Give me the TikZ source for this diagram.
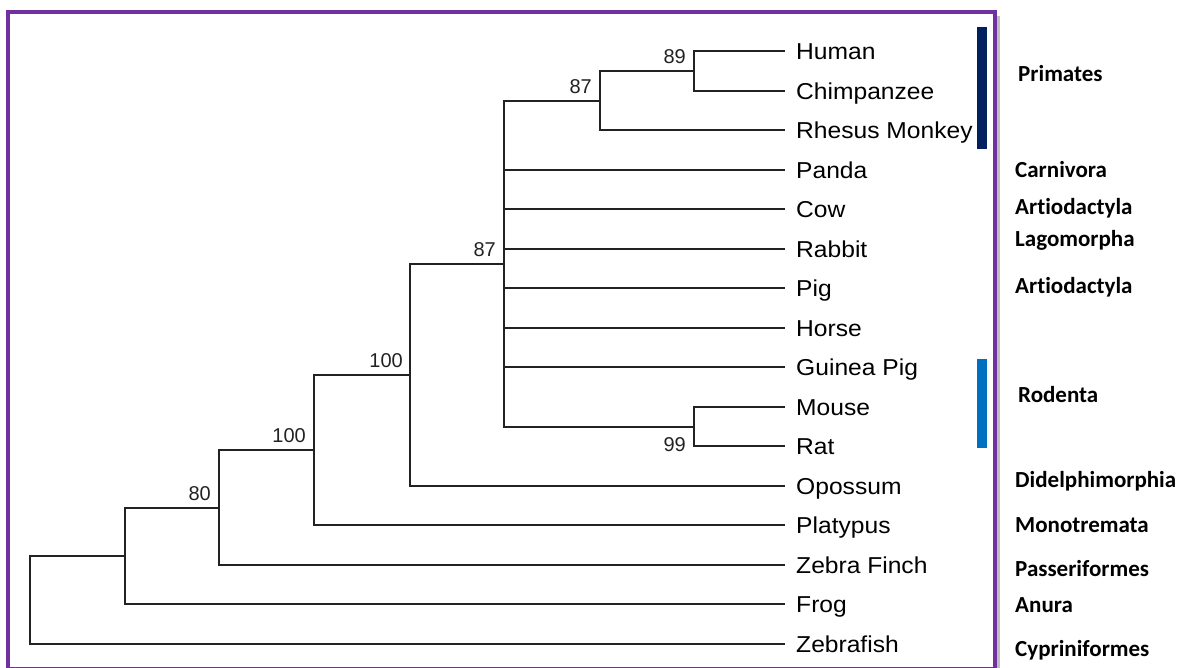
\documentclass[tikz,border=0pt]{standalone}
\usepackage{fontspec}
\setmainfont{Liberation Sans}
\newfontfamily\leaffont{Liberation Sans}[FakeStretch=1.07]
\newfontfamily\orderfont{Carlito}[Ligatures=NoCommon]
\usetikzlibrary{positioning}

\definecolor{framepurple}{RGB}{112,48,160}
\definecolor{primblue}{RGB}{0,32,96}
\definecolor{rodblue}{RGB}{0,112,192}
\definecolor{branchgray}{RGB}{34,34,34}

\begin{document}
\begin{tikzpicture}[
        x=1pt, y=-1pt,
        branch/.style={draw=branchgray, line width=1.8pt},
        leaf/.style={inner sep=0pt, anchor=west, text height=16.5pt, text depth=0pt, font=\leaffont\fontsize{23}{23}\selectfont},
        boot/.style={inner sep=0pt, text=branchgray, font=\fontsize{20}{20}\selectfont},
        order/.style={inner sep=0pt, anchor=base west, font=\orderfont\bfseries\fontsize{23}{23}\selectfont}
      ]
      \useasboundingbox (0,0) rectangle (1182,668);
      \clip (0,0) rectangle (1182,668);

      % frame
      \draw[black!25, line width=3pt] (998.5,16) -- (998.5,668);
      \draw[framepurple, line width=4pt] (8,12.5) rectangle (994.5,669);

      % taxa
      \foreach \name/\txt [count=\i from 0] in {human/Human, chimp/Chimpanzee, rhesus/Rhesus Monkey,
          panda/Panda, cow/Cow, rabbit/Rabbit, pig/Pig, horse/Horse, guinea/Guinea Pig, mouse/Mouse,
          rat/Rat, opossum/Opossum, platypus/Platypus, finch/Zebra Finch, frog/Frog, zfish/Zebrafish} {
        \coordinate (t-\name) at (785, {int(51.5+39.5*\i)});
        \node[leaf, right=11pt of t-\name] (\name) {\txt};
      }

      % internal nodes
      \coordinate (hc)    at (694,71);
      \coordinate (prim)  at (600,101);
      \coordinate (mr)    at (694,427);
      \coordinate (euth)  at (504,264);
      \coordinate (ther)  at (410,375);
      \coordinate (mamm)  at (314,450);
      \coordinate (amn)   at (219,508);
      \coordinate (tetra) at (125,556);
      \coordinate (root)  at (30,600);

      \draw[branch] (hc) |- (t-human) (hc) |- (t-chimp);
      \draw[branch] (prim) |- (hc) (prim) |- (t-rhesus);
      \draw[branch] (mr) |- (t-mouse) (mr) |- (t-rat);
      \foreach \c in {prim, t-panda, t-cow, t-rabbit, t-pig, t-horse, t-guinea, mr}
        \draw[branch] (euth) |- (\c);
      \draw[branch] (ther) |- (euth) (ther) |- (t-opossum);
      \draw[branch] (mamm) |- (ther) (mamm) |- (t-platypus);
      \draw[branch] (amn) |- (mamm) (amn) |- (t-finch);
      \draw[branch] (tetra) |- (amn) (tetra) |- (t-frog);
      \draw[branch] (root) |- (tetra) (root) |- (t-zfish);

      % bootstrap values
      \node[boot, above left=7pt and 8pt of hc]   (b-hc)   {89};
      \node[boot, above left=7pt and 8pt of prim] (b-prim) {87};
      \node[boot, above left=7pt and 8pt of euth] (b-euth) {87};
      \node[boot, above left=7pt and 7pt of ther] (b-ther) {100};
      \node[boot, above left=7pt and 8pt of mamm] (b-mamm) {100};
      \node[boot, above left=7pt and 8pt of amn]  (b-amn)  {80};
      \node[boot, below left=10pt and 8pt of mr]  (b-mr)   {99};

      % orders
      \fill[primblue] (977,27) rectangle (987,149);
      \fill[rodblue] (977,359) rectangle (987,448);
      \node[order] (o-prim)  at (1018,82)  {Primates};
      \node[order] (o-carn)  at (1015,178) {Carnivora};
      \node[order] (o-art1)  at (1015,215) {Art\kern0pt iodactyla};
      \node[order] (o-lago)  at (1015,247) {Lagomorpha};
      \node[order] (o-art2)  at (1015,293) {Art\kern0pt iodactyla};
      \node[order] (o-rod)   at (1018,402) {Rodenta};
      \node[order] (o-did)   at (1015,487) {Didelphimorphia};
      \node[order] (o-mono)  at (1015,532) {Monotremata};
      \node[order] (o-pass)  at (1015,576) {Passeriformes};
      \node[order] (o-anura) at (1015,612) {Anura};
      \node[order] (o-cypr)  at (1015,656) {Cypriniformes};
    \end{tikzpicture}
\end{document}
